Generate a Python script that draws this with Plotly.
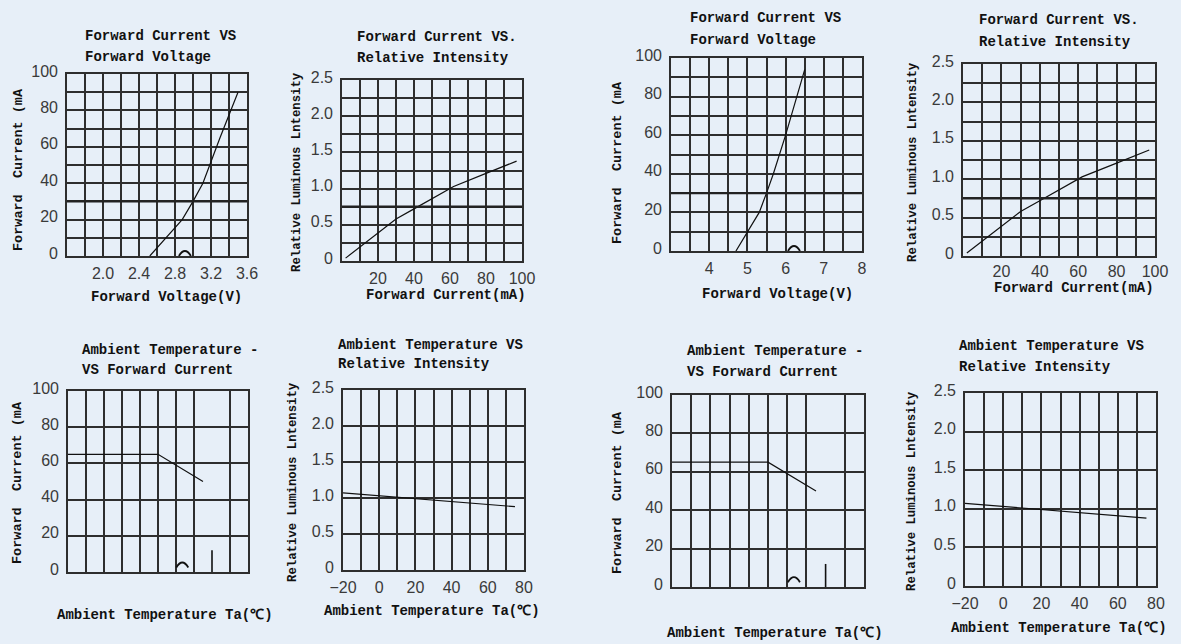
import plotly.graph_objects as go

W, H = 1181, 644
BG = "#E7EFF8"
GRID = "#2e2e2e"
TITLE_FONT = "Liberation Mono"
TICK_FONT = "Liberation Sans"

# ---------------- data ----------------
# Forward current vs forward voltage (low-voltage LED)
fv_voltage_a = [2.52, 2.88, 3.00, 3.11, 3.30, 3.50]
fv_current_a = [0, 20, 30, 40, 65, 90]
# Forward current vs forward voltage (high-voltage LED)
fv_voltage_b = [4.70, 5.31, 5.50, 5.68, 6.00, 6.50]
fv_current_b = [0, 20, 30, 40, 60, 94]
# Forward current vs relative intensity
ri_current = [2, 30, 40, 50, 62, 80, 97]
ri_intensity = [0.04, 0.58, 0.72, 0.86, 1.03, 1.21, 1.38]
# Ambient temperature vs forward current (derating)
ta_temp = [0, 50, 75]
ta_current = [65, 65, 50]
# Ambient temperature vs relative intensity
tri_temp = [-20, 75]
tri_intensity = [1.07, 0.88]

# tick labels
fv_a_ticks = [2.0, 2.4, 2.8, 3.2, 3.6]
fv_a_ticktext = ["2.0", "2.4", "2.8", "3.2", "3.6"]
fv_b_ticks = [4, 5, 6, 7, 8]
current_ticks = [0, 20, 40, 60, 80, 100]
current_ticks_x = [20, 40, 60, 80, 100]
intensity_ticks = [0, 0.5, 1.0, 1.5, 2.0, 2.5]
intensity_ticktext = ["0", "0.5", "1.0", "1.5", "2.0", "2.5"]
temp_ticks = [0, 20, 40, 60, 80, 100]
temp2_ticks = [-20, 0, 20, 40, 60, 80]
# vertical grid of the derating charts (the 80 line is only a stub)
derate_grid_x = [0, 10, 20, 30, 40, 50, 60, 70, 90, 100]
derate_stub_x = [80, 80]
derate_stub_y = [0, 12]
# emphasised grid lines seen in the scan
emph_fc = 30
emph_ri = 0.75
# small arc marks in the scan
arc_fv_a = (2.91, 0)
arc_fv_b = (6.22, 0)
arc_ta = (63.5, 2.5)

# ---------------- layout helpers ----------------
def dx(l, r):
    return [l / W, r / W]

def dy(t, b):
    return [1 - b / H, 1 - t / H]

boxes = {
    1: (67, 74, 247, 256),
    2: (342, 80, 522, 261),
    3: (671, 58, 862, 251),
    4: (963, 64, 1155, 256),
    5: (68, 391, 248, 572),
    6: (343, 390, 524, 570),
    7: (672, 395, 864, 587),
    8: (965, 393, 1156, 586),
}

def base_axis():
    return dict(showline=True, mirror=True, linecolor=GRID, linewidth=1.6,
                showgrid=True, gridcolor=GRID, gridwidth=1.5, zeroline=False,
                ticks="", fixedrange=True, automargin=False,
                tickfont=dict(family=TICK_FONT, size=16, color="#3a3a3a"))

def minor(dtick, tick0=0):
    return dict(dtick=dtick, tick0=tick0, showgrid=True, gridcolor=GRID,
                gridwidth=1.5, ticks="")

layout = dict(width=W, height=H, margin=dict(l=0, r=0, t=0, b=0, pad=0),
              paper_bgcolor=BG, plot_bgcolor=BG, showlegend=False, autosize=False)

def ax_name(kind, i):
    return f"{kind}axis" if i == 1 else f"{kind}axis{i}"

def ref(kind, i):
    return kind if i == 1 else f"{kind}{i}"

for i in range(1, 9):
    l, t, r, b = boxes[i]
    xa = base_axis(); ya = base_axis()
    xa.update(domain=dx(l, r), anchor=ref("y", i))
    ya.update(domain=dy(t, b), anchor=ref("x", i))
    ya.update(ticklabelshift=-3, ticklabelstandoff=4)
    xa.update(ticklabelstandoff=2)
    if i == 1:
        xa.update(range=[1.6, 3.6], tickvals=fv_a_ticks, ticktext=fv_a_ticktext, minor=minor(0.2, 1.6))
        ya.update(range=[0, 100], tickvals=current_ticks, minor=minor(10))
    elif i == 3:
        xa.update(range=[3, 8], tickvals=fv_b_ticks, minor=minor(0.5, 3))
        ya.update(range=[0, 100], tickvals=current_ticks, minor=minor(10))
    elif i in (2, 4):
        xa.update(range=[0, 100], tickvals=current_ticks_x, minor=minor(10))
        ya.update(range=[0, 2.5], tickvals=intensity_ticks, ticktext=intensity_ticktext, minor=minor(0.25))
        if i == 4:
            xa.update(ticklabelstandoff=0)
    elif i in (5, 7):
        xa.update(range=[0, 100], tickvals=derate_grid_x, showticklabels=False)
        ya.update(range=[0, 100], tickvals=current_ticks)
    else:
        xa.update(range=[-20, 80], tickvals=temp2_ticks, minor=minor(10))
        ya.update(range=[0, 2.5], tickvals=intensity_ticks, ticktext=intensity_ticktext)
    layout[ax_name("x", i)] = xa
    layout[ax_name("y", i)] = ya

# overlay axes carrying the tick labels of the derating charts
for k, i in ((9, 5), (10, 7)):
    l, t, r, b = boxes[i]
    ov = base_axis()
    ov.update(domain=dx(l, r), anchor=ref("y", i), overlaying=ref("x", i),
              range=[0, 100], tickvals=temp_ticks, showgrid=False, showline=False,
              ticklabelstandoff=4)
    layout[ax_name("x", k)] = ov

fig = go.Figure(layout=layout)

def add_line(x, y, i, width=1.2):
    fig.add_trace(go.Scatter(x=x, y=y, mode="lines", xaxis=ref("x", i), yaxis=ref("y", i),
                             line=dict(color="#111111", width=width), hoverinfo="skip",
                             cliponaxis=False))

add_line(fv_voltage_a, fv_current_a, 1)
add_line(ri_current, ri_intensity, 2)
add_line(fv_voltage_b, fv_current_b, 3)
add_line(ri_current, ri_intensity, 4)
add_line(ta_temp, ta_current, 5)
add_line(tri_temp, tri_intensity, 6)
add_line(ta_temp, ta_current, 7)
add_line(tri_temp, tri_intensity, 8)
for i in (5, 7):
    add_line(derate_stub_x, derate_stub_y, i, width=1.6)

# emphasised grid lines
for i, val in ((1, emph_fc), (3, emph_fc), (2, emph_ri), (4, emph_ri)):
    fig.add_shape(type="line", xref=f"{ref('x', i)} domain", yref=ref("y", i),
                  x0=0, x1=1, y0=val, y1=val, line=dict(color="#222222", width=2.2))

# small arcs (pixel-sized, anchored in data coordinates)
for i, (ax_, ay_) in ((1, arc_fv_a), (3, arc_fv_b), (5, arc_ta), (7, arc_ta)):
    fig.add_shape(type="path", xref=ref("x", i), yref=ref("y", i),
                  xsizemode="pixel", ysizemode="pixel", xanchor=ax_, yanchor=ay_,
                  path="M-6,0 Q0,10 6,0", line=dict(color="#111111", width=1.8))

# ---------------- texts ----------------
def px_ann(text, x, y, size=14, xanchor="left", angle=0):
    fig.add_annotation(x=x / W, y=1 - y / H, xref="paper", yref="paper", text=text,
                       showarrow=False, xanchor=xanchor, yanchor="middle", textangle=angle,
                       font=dict(family=TITLE_FONT, size=size, color="#111111", weight="bold"))

titles = [
    ("Forward Current VS", "Forward Voltage", 83, 36, 57),
    ("Forward Current VS.", "Relative Intensity", 355, 37, 58),
    ("Forward Current VS", "Forward Voltage", 688, 18, 40),
    ("Forward Current VS.", "Relative Intensity", 977, 20, 42),
    ("Ambient Temperature -", "VS Forward Current", 80, 350, 370),
    ("Ambient Temperature VS", "Relative Intensity", 336, 345, 364),
    ("Ambient Temperature -", "VS Forward Current", 685, 351, 372),
    ("Ambient Temperature VS", "Relative Intensity", 957, 346, 367),
]
for l1, l2, x, y1, y2 in titles:
    px_ann(l1, x, y1)
    px_ann(l2, x, y2)

xtitles = [
    ("Forward Voltage(V)", 166, 297),
    ("Forward Current(mA)", 446, 295),
    ("Forward Voltage(V)", 777, 294),
    ("Forward Current(mA)", 1074, 288),
    ("Ambient Temperature Ta(℃)", 165, 615),
    ("Ambient Temperature Ta(℃)", 432, 611),
    ("Ambient Temperature Ta(℃)", 775, 633),
    ("Ambient Temperature Ta(℃)", 1059, 628),
]
for text, x, y in xtitles:
    px_ann(text, x, y, size=14, xanchor="center")

ytitles = [
    ("Forward  Current (mA", 18, 170, 13.5),
    ("Relative Luminous Lntensity", 297, 172, 12.3),
    ("Forward  Current (mA", 618, 163, 13.5),
    ("Relative Luminous Lntensity", 913, 162, 12.3),
    ("Forward  Current (mA", 17, 483, 13.5),
    ("Relative Luminous Lntensity", 293, 482, 12.3),
    ("Forward  Current (mA", 617, 493, 13.5),
    ("Relative Luminous Lntensity", 912, 491, 12.3),
]
for text, x, y, s in ytitles:
    px_ann(text, x, y, size=s, xanchor="center", angle=-90)

fig.write_html("out.html", config={"responsive": False, "displayModeBar": False},
               post_script="document.body.style.margin='0';document.body.style.overflow='hidden';")
